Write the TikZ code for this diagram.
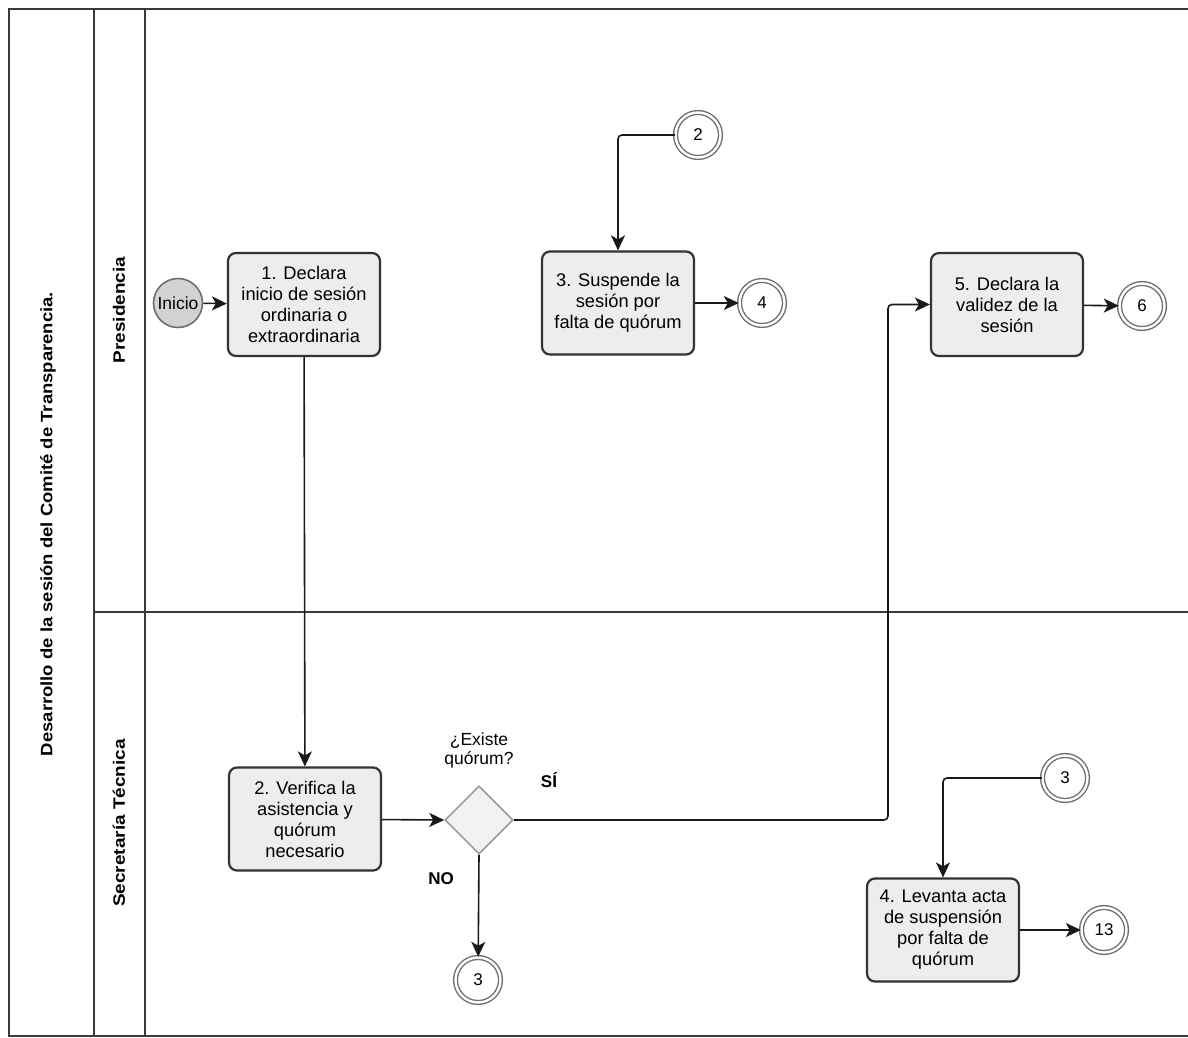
\documentclass[tikz,border=0pt]{standalone}
\usepackage{fontspec}
\setmainfont{Liberation Sans}
\usetikzlibrary{shapes.geometric,arrows.meta}
\definecolor{framec}{HTML}{3A3A3A}
\definecolor{boxfill}{HTML}{EDEDED}
\definecolor{boxline}{HTML}{333333}
\definecolor{ringc}{HTML}{6E6E6E}
\definecolor{startfill}{HTML}{D2D2D2}
\definecolor{diafill}{HTML}{F2F2F2}
\definecolor{dialine}{HTML}{9A9A9A}
\tikzset{
  frameline/.style={draw=framec,line width=1.6pt},
  taskbox/.style={draw=boxline,fill=boxfill,line width=2.2pt,rounded corners=8pt,
    minimum width=152pt,minimum height=103pt,align=center,
    font=\fontsize{18.3}{21}\selectfont,inner sep=1pt},
  linkc/.style={circle,draw=ringc,double=white,double distance=2.4pt,line width=1.4pt,
    minimum size=45pt,inner sep=0pt,font=\fontsize{17}{18}\selectfont},
  startc/.style={circle,draw=ringc,fill=startfill,line width=1.6pt,minimum size=49pt,
    inner sep=0pt,font=\fontsize{17.5}{18}\selectfont},
  gate/.style={diamond,draw=dialine,fill=diafill,line width=1.6pt,minimum width=68pt,
    minimum height=68pt,inner sep=0pt},
  conn/.style={draw=black!90,line width=1.6pt,rounded corners=4pt,
    -{Stealth[length=15pt,width=14pt,inset=4pt]}},
  lanelbl/.style={rotate=90,font=\bfseries\fontsize{16.5}{18}\selectfont},
  plainlbl/.style={align=center,font=\fontsize{17.5}{19}\selectfont},
  boldlbl/.style={font=\bfseries\fontsize{17}{18}\selectfont}
}
\begin{document}
\begin{tikzpicture}[x=1pt,y=-1pt]
\useasboundingbox (0,0) rectangle (1188,1038);
% frame
\draw[frameline] (1190,9) -- (9,9) -- (9,1036) -- (1190,1036);
\draw[frameline] (94,9) -- (94,1036);
\draw[frameline] (145,9) -- (145,1036);
\draw[frameline] (94,612) -- (1190,612);
% labels
\node[lanelbl] (title) at (48,524) {\scalebox{1.12}[1]{Desarrollo de la sesión del Comité de Transparencia.}};
\node[lanelbl] (lp) at (119,310) {\scalebox{1.15}[1]{Presidencia}};
\node[lanelbl] (ls) at (119,823) {\scalebox{1.15}[1]{Secretaría Técnica}};
% nodes
\node[startc] (ini) at (178,303) {Inicio};
\node[taskbox] (b1) at (304,304.5) {1. Declara\\inicio de sesión\\ordinaria o\\extraordinaria};
\node[linkc] (c2) at (698,135) {2};
\node[taskbox] (b3) at (618,303) {3. Suspende la\\sesión por\\falta de quórum};
\node[linkc] (c4) at (762,303) {4};
\node[taskbox] (b5) at (1007,304.5) {5. Declara la\\validez de la\\sesión};
\node[linkc] (c6) at (1142,306) {6};
\node[taskbox] (b2) at (305,819) {2. Verifica la\\asistencia y\\quórum\\necesario};
\node[gate] (g) at (479,820) {};
\node[plainlbl] (gq) at (479,750) {¿Existe\\quórum?};
\node[boldlbl] (si) at (549,780) {SÍ};
\node[boldlbl] (no) at (441,879) {NO};
\node[linkc] (c3a) at (478,980) {3};
\node[linkc] (c3b) at (1065,778) {3};
\node[taskbox] (b4) at (943,930) {4. Levanta acta\\de suspensión\\por falta de\\quórum};
\node[linkc] (c13) at (1104,930) {13};
\coordinate (kSi) at (888,820);
% connectors
\draw[conn] (ini) -- (b1);
\draw[conn] (b1) -- (b2);
\draw[conn] (c2.west) -| (b3.north);
\draw[conn] (b3) -- (c4);
\draw[conn] (b5) -- (c6);
\draw[conn] (b2) -- (g.west);
\draw[conn] (g.east) -- (kSi) |- (b5.west);
\draw[conn] (g.south) -- (c3a);
\draw[conn] (c3b.west) -| (b4.north);
\draw[conn] (b4) -- (c13);
\end{tikzpicture}
\end{document}
